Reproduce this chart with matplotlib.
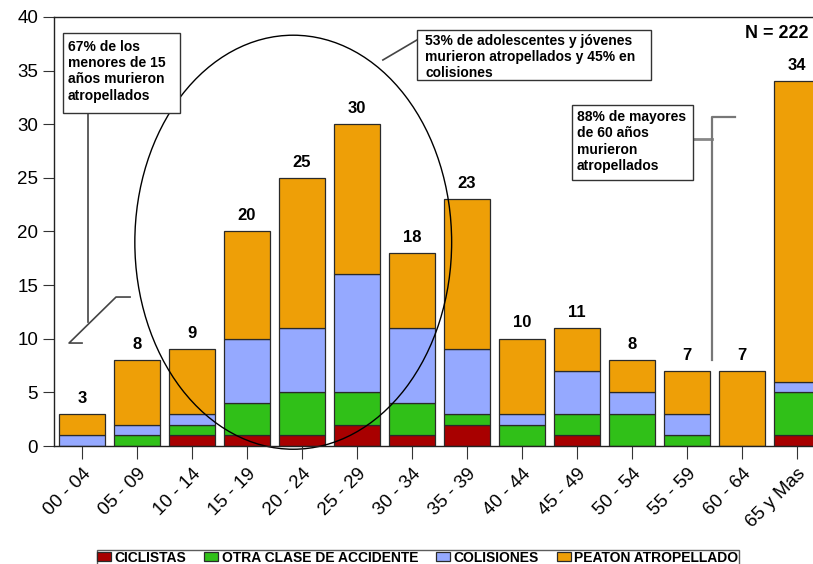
import matplotlib
matplotlib.use("Agg")
import matplotlib.pyplot as plt
import numpy as np
from matplotlib.patches import Ellipse, Rectangle

plt.rcParams["font.family"] = ["Liberation Sans", "DejaVu Sans"]

grupos = ["00 - 04", "05 - 09", "10 - 14", "15 - 19", "20 - 24", "25 - 29", "30 - 34",
          "35 - 39", "40 - 44", "45 - 49", "50 - 54", "55 - 59", "60 - 64", "65 y Mas"]
ciclistas = [0, 0, 1, 1, 1, 2, 1, 2, 0, 1, 0, 0, 0, 1]
otra_clase = [0, 1, 1, 3, 4, 3, 3, 1, 2, 2, 3, 1, 0, 4]
colisiones = [1, 1, 1, 6, 6, 11, 7, 6, 1, 4, 2, 2, 0, 1]
peaton = [2, 6, 6, 10, 14, 14, 7, 14, 7, 4, 3, 4, 7, 28]

series = [
    ("CICLISTAS", ciclistas, "#A80000"),
    ("OTRA CLASE DE ACCIDENTE", otra_clase, "#30C018"),
    ("COLISIONES", colisiones, "#95A9FF"),
    ("PEATON ATROPELLADO", peaton, "#EE9F07"),
]

fig = plt.figure(figsize=(8.13, 5.64), dpi=100)
ax = fig.add_axes([0.0664, 0.2092, 0.9336, 0.7607])

x = np.arange(len(grupos))
bottom = np.zeros(len(grupos))
for label, vals, color in series:
    vals = np.array(vals)
    ax.bar(x, vals, 0.84, bottom=bottom, color=color, edgecolor="#2a2a2a",
           linewidth=0.9, label=label)
    bottom += vals

for xi, total in zip(x, bottom):
    ax.annotate(f"{int(total)}", (xi, total), xytext=(0, 6), textcoords="offset points",
                ha="center", va="bottom", fontsize=12, fontweight="bold")

ax.set_xlim(-0.51, 13.29)
ax.set_ylim(0, 40)
ax.set_yticks(range(0, 41, 5))
ax.set_xticks(x)
ax.set_xticklabels(grupos, rotation=45, ha="right", rotation_mode="anchor", fontsize=13.5)
ax.tick_params(axis="y", labelsize=13.5, length=8, direction="out", color="#333333")
ax.tick_params(axis="x", length=9, direction="out", color="#333333", pad=5)
ax.spines["right"].set_visible(False)
for s in ["left", "bottom", "top"]:
    ax.spines[s].set_color("#222222")
    ax.spines[s].set_linewidth(1.0)

# elipse de adolescentes y jovenes
ax.add_patch(Ellipse((3.84, 19.0), 5.76, 38.6, fill=False, edgecolor="black",
                     linewidth=1.0, clip_on=False))

# recuadros de texto
boxes = [
    ((-0.345, 31.05), 2.127, 7.46, (-0.255, 37.85),
     "67% de los\nmenores de 15\naños murieron\natropellados"),
    ((6.09, 34.13), 4.255, 4.66, (6.236, 38.45),
     "53% de adolescentes y jóvenes\nmurieron atropellados y 45% en\ncolisiones"),
    ((8.91, 24.80), 2.20, 6.99, (9.0, 31.3),
     "88% de mayores\nde 60 años\nmurieron\natropellados"),
]
for (bx, by), bw, bh, (tx, ty), txt in boxes:
    ax.add_patch(Rectangle((bx, by), bw, bh, fill=True, facecolor="white",
                           edgecolor="#333333", linewidth=1.0, zorder=4, clip_on=False))
    ax.text(tx, ty, txt, ha="left", va="top", fontsize=10, fontweight="bold",
            linespacing=1.2, zorder=5)

line_kw = dict(color="#444444", linewidth=1.2, zorder=3, clip_on=False)
ax.plot([0.109, 0.109], [31.05, 11.56], **line_kw)
ax.plot([0.873, 0.618, -0.236, 0.0], [13.89, 13.89, 9.60, 9.60], **line_kw)
ax.plot([6.09, 5.47], [37.86, 35.99], **line_kw)
ax.plot([11.11, 11.455], [28.62, 28.62], color="#888888", linewidth=2, zorder=3)
ax.plot([11.87, 11.455, 11.455], [30.68, 30.68, 8.02], color="#777777", linewidth=1.6, zorder=3)

ax.text(13.2, 38.5, "N = 222", ha="right", va="center", fontsize=13, fontweight="bold")

leg = fig.legend(loc="upper center", bbox_to_anchor=(0.514, 0.037), ncol=4,
                 prop={"size": 10, "weight": "bold"}, handlelength=1.0, handleheight=0.6,
                 handletextpad=0.25, columnspacing=1.3, borderpad=0.05,
                 frameon=True, fancybox=False, edgecolor="#333333")
leg.get_frame().set_linewidth(1.0)

fig.savefig("out.png", dpi=100)
